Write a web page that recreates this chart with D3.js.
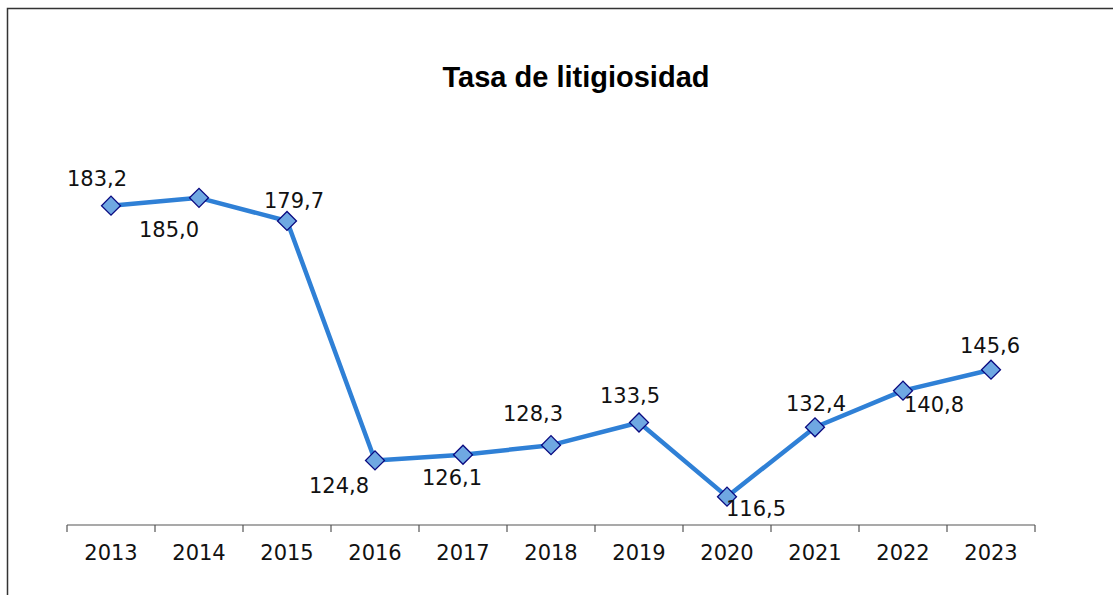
<!DOCTYPE html>
<html lang="es">
<head>
    <meta charset="UTF-8">
    <title>Tasa de litigiosidad</title>
    <script src="https://d3js.org/d3.v7.min.js"></script>
    <style>
        body { margin: 0; background: #fff; }
        svg { display: block; }
    </style>
</head>
<body>
    <div id="chart"></div>

    <script>
        // Data
        const years = ["2013", "2014", "2015", "2016", "2017", "2018", "2019", "2020", "2021", "2022", "2023"];
        const rates = [183.2, 185.0, 179.7, 124.8, 126.1, 128.3, 133.5, 116.5, 132.4, 140.8, 145.6];
        const titleText = "Tasa de litigiosidad";

        const W = 1113, H = 595;

        // label placement relative to each marker (dx, dy), like the original Excel layout
        const labelOffsets = [
            [-14, -20], [-30, 39], [7, -13], [-36, 33], [-11, 30], [-18, -24],
            [-9, -19], [29, 19], [1, -16], [31, 21], [-1, -17]
        ];

        const svg = d3.select("#chart")
            .append("svg")
            .attr("width", W)
            .attr("height", H);

        // outer frame
        svg.append("rect")
            .attr("x", 7.5)
            .attr("y", 8.5)
            .attr("width", W + 20)
            .attr("height", H + 20)
            .attr("fill", "#fff")
            .attr("stroke", "#333")
            .attr("stroke-width", 1.5);

        // title
        svg.append("text")
            .attr("x", 576)
            .attr("y", 87)
            .attr("text-anchor", "middle")
            .style("font-family", "'Liberation Sans', Arial, sans-serif")
            .style("font-weight", "bold")
            .style("font-size", "29px")
            .text(titleText);

        // scales
        const x = d3.scaleBand()
            .domain(years)
            .range([67, 1035]);

        const y = d3.scaleLinear()
            .domain([110, 200])
            .range([525, 132.4]);

        // x axis
        const xAxis = svg.append("g")
            .attr("transform", "translate(0,525)")
            .call(d3.axisBottom(x).tickSize(0).tickPadding(20));

        xAxis.select(".domain")
            .attr("stroke", "#555")
            .attr("stroke-width", 1.2)
            .attr("d", "M67,0H1035");

        xAxis.selectAll("text")
            .style("font-family", "'DejaVu Sans', Verdana, sans-serif")
            .style("font-size", "21px")
            .attr("fill", "#111");

        // tick marks on band boundaries
        const boundaries = years.map(d => x(d)).concat([x.range()[1]]);
        xAxis.selectAll(".bound")
            .data(boundaries)
            .enter()
            .append("line")
            .attr("class", "bound")
            .attr("x1", d => d)
            .attr("x2", d => d)
            .attr("y1", 0)
            .attr("y2", 7)
            .attr("stroke", "#555")
            .attr("stroke-width", 1.2);

        const cx = d => x(d) + x.bandwidth() / 2;

        // line
        const line = d3.line()
            .x((d, i) => cx(years[i]))
            .y(d => y(d));

        svg.append("path")
            .datum(rates)
            .attr("d", line)
            .attr("fill", "none")
            .attr("stroke", "#2f80d6")
            .attr("stroke-width", 4.5)
            .attr("stroke-linejoin", "round");

        // diamond markers
        const diamond = d3.symbol().type(d3.symbolSquare).size(180);
        svg.selectAll(".marker")
            .data(rates)
            .enter()
            .append("path")
            .attr("class", "marker")
            .attr("d", diamond)
            .attr("transform", (d, i) => `translate(${cx(years[i])},${y(d)}) rotate(45)`)
            .attr("fill", "#6fa8e2")
            .attr("stroke", "#0a0a80")
            .attr("stroke-width", 1.3);

        // data labels
        const fmt = v => d3.format(".1f")(v).replace(".", ",");
        svg.selectAll(".lbl")
            .data(rates)
            .enter()
            .append("text")
            .attr("class", "lbl")
            .attr("x", (d, i) => cx(years[i]) + labelOffsets[i][0])
            .attr("y", (d, i) => y(d) + labelOffsets[i][1])
            .attr("text-anchor", "middle")
            .style("font-family", "'DejaVu Sans', Verdana, sans-serif")
            .style("font-size", "21px")
            .attr("fill", "#111")
            .text(fmt);
    </script>
</body>
</html>
